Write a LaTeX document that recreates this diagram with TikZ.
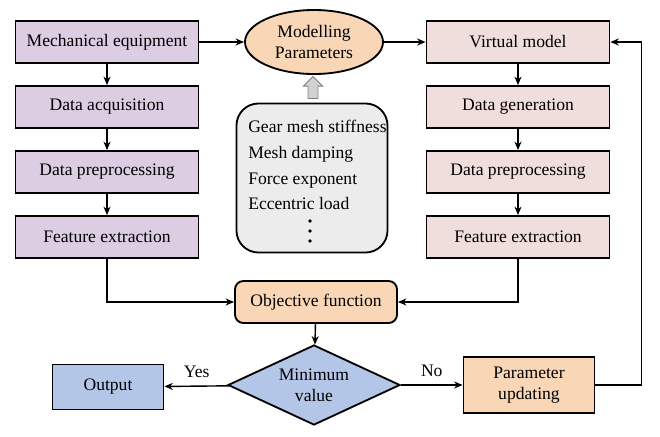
\documentclass[tikz,border=0pt]{standalone}
\usepackage{fontspec}
\setmainfont{Liberation Serif}
\newfontfamily\timesfont{Liberation Serif}
\usetikzlibrary{shapes.geometric,shapes.arrows,arrows.meta}

\definecolor{lilac}{HTML}{DCCDE3}
\definecolor{rosy}{HTML}{F0DEDC}
\definecolor{peach}{HTML}{F8D6B6}
\definecolor{paleblue}{HTML}{B4C6E7}
\definecolor{palegray}{HTML}{ECECEC}

\tikzset{
    txt/.style={font=\timesfont\fontsize{12.5}{15}\selectfont},
    box/.style={draw, line width=1.3pt, minimum width=4.575cm, minimum height=1.05cm, txt},
    flow/.style={-{Stealth[length=6pt,width=5pt]}, line width=1pt}
}

\begin{document}
\begin{tikzpicture}[x=0.025cm, y=-0.025cm]
    \useasboundingbox (0,0) rectangle (660,436);

    % Measured branch (left)
    \node[box, fill=lilac] (mech) at (107,42) {Mechanical equipment};
    \node[box, fill=lilac] (acq)  at (107,107) {Data acquisition};
    \node[box, fill=lilac] (pre)  at (107,172) {Data preprocessing};
    \node[box, fill=lilac] (feat) at (107,237) {Feature extraction};

    % Simulated branch (right)
    \node[box, fill=rosy] (virt)  at (518,42) {Virtual model};
    \node[box, fill=rosy] (gen)   at (518,107) {Data generation};
    \node[box, fill=rosy] (spre)  at (518,172) {Data preprocessing};
    \node[box, fill=rosy] (sfeat) at (518,237) {Feature extraction};

    % Modelling parameters
    \node[ellipse, draw, line width=1.3pt, fill=peach, minimum width=3.45cm, minimum height=1.6cm,
        align=center, txt] (model) at (314,42) {Modelling\\Parameters};

    \node[draw, line width=1.3pt, fill=palegray, rounded corners=0.55cm,
        minimum width=3.775cm, minimum height=3.725cm] (plist) at (312,178) {};
    \node[anchor=north west, align=left, inner sep=0pt,
        font=\timesfont\fontsize{12.5}{18.3}\selectfont] (ptext) at (248,120)
        {Gear mesh stiffness\\Mesh damping\\Force exponent\\Eccentric load};
    \foreach \y in {221,231,241}
        \fill (310,\y) circle (1.9);

    \node[single arrow, draw=gray, fill=gray!35, rotate=90, line width=0.6pt,
        minimum height=0.55cm, minimum width=0.48cm, single arrow head extend=0.06cm,
        inner sep=1.5pt] (up) at (313,90) {};

    % Evaluation
    \node[box, fill=peach, rounded corners=6pt, minimum width=4.05cm] (obj) at (316,302) {Objective function};
    \node[diamond, draw, line width=1.3pt, fill=paleblue, aspect=2.15, inner sep=1pt,
        minimum width=4.3cm, minimum height=2cm, align=center, txt] (minv) at (314,385) {Minimum\\value};
    \node[box, fill=paleblue, minimum width=2.775cm, minimum height=1.125cm] (out) at (108,387) {Output};
    \node[box, fill=peach, minimum width=3.275cm, minimum height=1.4cm, align=center] (upd) at (529,385)
        {Parameter\\updating};

    % Connectors
    \draw[flow] (mech) -- (model);
    \draw[flow] (model) -- (virt);
    \draw[flow] (mech) -- (acq);
    \draw[flow] (acq) -- (pre);
    \draw[flow] (pre) -- (feat);
    \draw[flow] (virt) -- (gen);
    \draw[flow] (gen) -- (spre);
    \draw[flow] (spre) -- (sfeat);
    \draw[flow] (feat.south) |- (obj.west);
    \draw[flow] (sfeat.south) |- (obj.east);
    \draw[flow] (obj) -- (minv);
    \draw[flow] (minv) -- node[above, txt, yshift=2pt] (yes) {Yes} (out);
    \draw[flow] (minv) -- node[above, txt, yshift=2pt] (no) {No} (upd);
    \draw[flow] (upd.east) -- ++(46,0) |- (virt.east);

\end{tikzpicture}
\end{document}
